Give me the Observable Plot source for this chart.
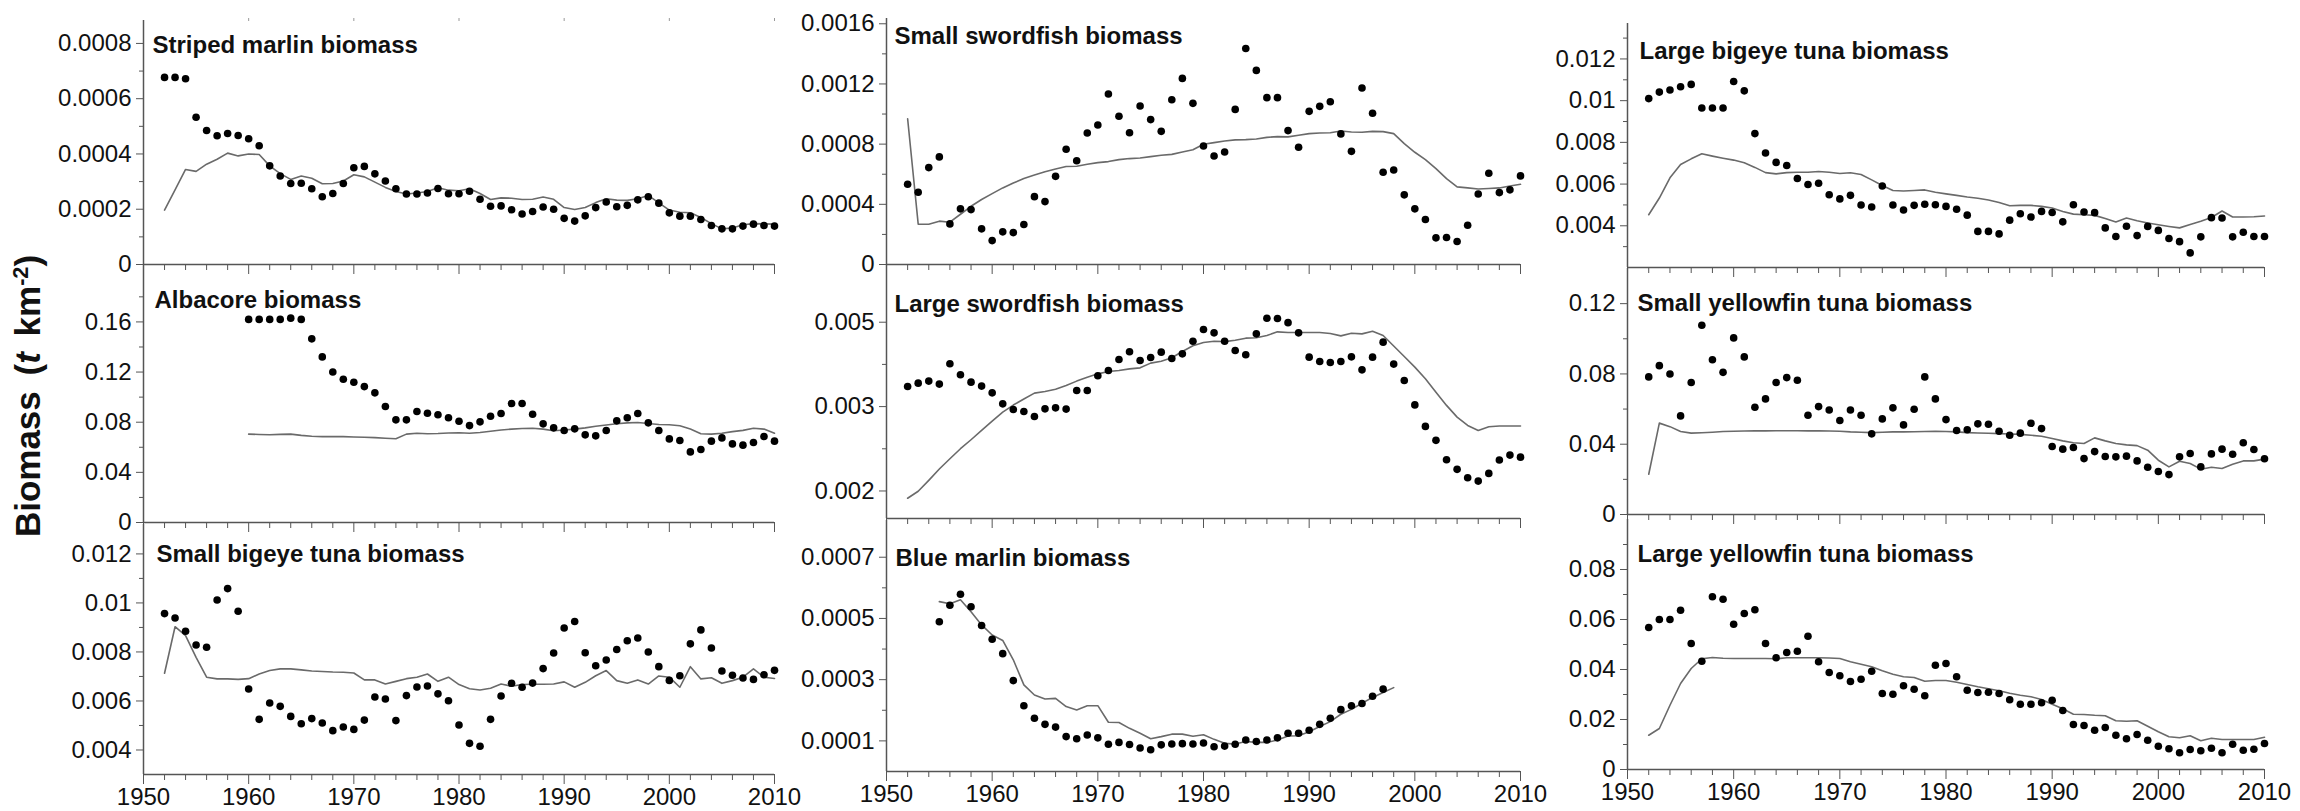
<!DOCTYPE html>
<html>
<head>
<meta charset="utf-8">
<script src="https://cdn.jsdelivr.net/npm/d3@7"></script>
<script src="https://cdn.jsdelivr.net/npm/@observablehq/plot@0.6"></script>
<style>
  body { margin: 0; background: #fff; }
  #root { position: relative; width: 2300px; height: 811px; overflow: hidden; font-family: "Liberation Sans", Arial, sans-serif; }
  #ylab { position: absolute; left: 28px; top: 396px; transform: translate(-50%, -50%) rotate(-90deg); white-space: nowrap; font-weight: bold; font-size: 35px; color: #111; word-spacing: 6px; }
  #ylab sup { font-size: 0.62em; vertical-align: 0.55em; line-height: 0; }
</style>
</head>
<body>
<div id="root"><div id="ylab">Biomass (<i>t</i> km<sup>-2</sup>)</div></div>
<script>
// ---------------- data ----------------
const years = d3.range(1952, 2011);            // 1952..2010
const albacoreYears = d3.range(1960, 2011);    // 1960..2010
const blueObsYears = d3.range(1955, 1998);     // 1955..1997
const blueModelYears = d3.range(1955, 1999);   // 1955..1998

const decadeYears = [1950, 1960, 1970, 1980, 1990, 2000, 2010];
const decadeLabels = ["1950", "1960", "1970", "1980", "1990", "2000", "2010"];
const minorYears = d3.range(1952, 2010, 2).filter(y => y % 10 !== 0);
const topStubYears = [1960, 1970, 1980, 1990, 2000, 2010];

const stripedObs = [0.000677,0.000677,0.000672,0.000533,0.000485,0.000466,0.000474,0.000467,0.000455,0.00043,
  0.000357,0.00032,0.000293,0.000294,0.000274,0.000245,0.000257,0.000293,0.00035,0.000355,
  0.000328,0.000302,0.000274,0.000255,0.000255,0.000259,0.000275,0.000256,0.000256,0.000265,
  0.000236,0.000211,0.000212,0.000198,0.000183,0.000192,0.000208,0.0002,0.000167,0.000157,
  0.000176,0.000206,0.000226,0.000209,0.000214,0.000234,0.000245,0.000222,0.000187,0.000175,
  0.000175,0.000163,0.000141,0.000129,0.000129,0.000139,0.000146,0.000141,0.000139];
const stripedModel = [0.000197,0.00027,0.000344,0.000337,0.000363,0.000381,0.000403,0.000393,0.0004,0.000398,
  0.000357,0.000329,0.000308,0.00032,0.000312,0.000292,0.000293,0.000302,0.000325,0.000317,
  0.000298,0.000279,0.000264,0.000255,0.000259,0.000264,0.000278,0.000269,0.000267,0.000274,
  0.000257,0.000235,0.000241,0.00024,0.000235,0.000236,0.000244,0.000236,0.000206,0.000199,
  0.000206,0.000224,0.000238,0.000233,0.000232,0.000238,0.00025,0.000223,0.000197,0.000189,
  0.000187,0.00017,0.000148,0.000129,0.000132,0.000144,0.000148,0.000147,0.000146];

const smallSwordObs = [0.000533,0.00048,0.000644,0.000715,0.00027,0.00037,0.000365,0.000237,0.000159,0.000217,
  0.000212,0.000266,0.000451,0.000418,0.000586,0.000766,0.00069,0.000874,0.000927,0.001133,
  0.000985,0.000876,0.001053,0.000963,0.000885,0.001095,0.001237,0.001071,0.000788,0.000721,
  0.000748,0.001031,0.001436,0.00129,0.001109,0.001109,0.00089,0.000779,0.001018,0.001051,
  0.001082,0.000868,0.000752,0.001173,0.001005,0.000613,0.000628,0.000463,0.00037,0.000299,
  0.000177,0.000179,0.000153,0.000261,0.000469,0.000606,0.000478,0.000496,0.000589];
const smallSwordModel = [0.000969,0.000268,0.000268,0.000288,0.000281,0.000334,0.000387,0.000432,0.000471,0.000509,
  0.000542,0.000571,0.000595,0.000617,0.000635,0.000651,0.000653,0.000666,0.000677,0.000684,
  0.000697,0.000704,0.000708,0.000717,0.000726,0.000732,0.000748,0.000763,0.000799,0.00081,
  0.000821,0.000828,0.00083,0.000834,0.000845,0.00085,0.000848,0.000859,0.00087,0.000874,
  0.000876,0.000887,0.000881,0.000879,0.000885,0.000883,0.00087,0.000803,0.000746,0.000697,
  0.000637,0.000571,0.000516,0.000509,0.000502,0.000505,0.000509,0.000522,0.000533];

const largeBigeyeObs = [0.0101,0.01041,0.01051,0.01067,0.01078,0.00965,0.00965,0.00965,0.01092,0.01047,
  0.00842,0.00749,0.00704,0.00689,0.00627,0.00598,0.00604,0.00549,0.00529,0.00546,
  0.005,0.0049,0.00591,0.005,0.00476,0.00498,0.00503,0.00501,0.00493,0.00479,
  0.00451,0.00373,0.00373,0.00361,0.00427,0.00458,0.00442,0.00469,0.00464,0.00419,
  0.00501,0.00466,0.00463,0.0039,0.00349,0.00398,0.00353,0.00397,0.00378,0.00339,
  0.00324,0.0027,0.00347,0.00439,0.00437,0.00347,0.00369,0.00349,0.00349];
const largeBigeyeModel = [0.00453,0.00533,0.0063,0.00694,0.00721,0.00745,0.00734,0.00724,0.00715,0.00702,
  0.0068,0.00655,0.00649,0.00655,0.00657,0.00657,0.0066,0.00657,0.00651,0.00654,
  0.00646,0.0062,0.00593,0.00569,0.00567,0.00569,0.00572,0.00561,0.00553,0.00546,
  0.00538,0.00532,0.00524,0.00512,0.00496,0.00498,0.00498,0.00493,0.00485,0.00469,
  0.00456,0.00453,0.0045,0.00435,0.00418,0.00437,0.00424,0.00413,0.00405,0.00397,
  0.0039,0.00406,0.00422,0.0044,0.00471,0.00442,0.00442,0.00443,0.00447];

const albacoreObs = [0.162,0.162,0.162,0.162,0.163,0.162,0.1465,0.1321,0.1201,0.1143,
  0.1119,0.1084,0.1034,0.0925,0.0819,0.0819,0.0885,0.0872,0.0859,0.0835,
  0.0808,0.0773,0.0803,0.0848,0.0869,0.0949,0.0949,0.0864,0.0787,0.0755,
  0.0734,0.0747,0.0699,0.0691,0.0734,0.0811,0.0835,0.0869,0.0795,0.0734,
  0.0667,0.0654,0.0563,0.0582,0.0649,0.0675,0.0627,0.0617,0.0638,0.0686,
  0.0649];
const albacoreModel = [0.0705,0.0702,0.07,0.0703,0.0705,0.0695,0.0688,0.0685,0.0686,0.0685,
  0.0682,0.068,0.0677,0.0672,0.0668,0.0705,0.0712,0.0708,0.071,0.0714,
  0.0716,0.0712,0.0718,0.0728,0.0738,0.0745,0.075,0.0752,0.0745,0.0732,
  0.0738,0.0745,0.0755,0.0768,0.0778,0.0788,0.0795,0.0798,0.079,0.0782,
  0.078,0.0772,0.0745,0.0708,0.0705,0.0712,0.0725,0.0735,0.0752,0.0745,
  0.0712];

const largeSwordObs = [0.00353,0.003594,0.003634,0.003575,0.003995,0.003761,0.003614,0.003537,0.003409,0.00321,
  0.003113,0.003079,0.002996,0.003124,0.003141,0.003119,0.003453,0.003453,0.003741,0.003851,
  0.004089,0.004264,0.004067,0.004134,0.004256,0.004112,0.004217,0.004519,0.004815,0.004729,
  0.004519,0.004295,0.004195,0.004703,0.005123,0.005114,0.005,0.004729,0.004142,0.004044,
  0.004022,0.004044,0.004149,0.003865,0.004142,0.004495,0.003988,0.003647,0.003192,0.002838,
  0.00263,0.002366,0.002245,0.002145,0.002106,0.002196,0.002362,0.002427,0.0024];
const largeSwordModel = [0.001918,0.001992,0.002114,0.002249,0.002379,0.002513,0.002639,0.002777,0.002922,0.003069,
  0.003189,0.003295,0.003404,0.003435,0.003475,0.003549,0.003634,0.003713,0.003781,0.003829,
  0.003851,0.003885,0.003907,0.004009,0.004052,0.004127,0.004272,0.004406,0.004487,0.004516,
  0.004508,0.004543,0.004594,0.004603,0.004661,0.004755,0.004738,0.004738,0.004738,0.004738,
  0.004711,0.004652,0.00472,0.004703,0.004772,0.004661,0.004402,0.004156,0.003922,0.003681,
  0.003421,0.003183,0.002986,0.002853,0.002777,0.002832,0.002845,0.002845,0.002845];

const smallYellowObs = [0.0783,0.0847,0.08,0.0561,0.0751,0.1077,0.0881,0.0809,0.1005,0.0897,
  0.061,0.0658,0.0751,0.0779,0.0764,0.0565,0.0614,0.0595,0.0535,0.0595,
  0.0565,0.0459,0.0544,0.0607,0.051,0.0599,0.0783,0.0658,0.054,0.0478,
  0.0482,0.0516,0.0514,0.0474,0.0451,0.0463,0.0519,0.0489,0.0387,0.0372,
  0.0381,0.0318,0.0358,0.033,0.0328,0.0332,0.0305,0.0269,0.0245,0.0227,
  0.0328,0.0347,0.0271,0.0345,0.0372,0.0343,0.0408,0.037,0.0317];
const smallYellowModel = [0.0229,0.052,0.05,0.0472,0.0463,0.0465,0.0468,0.0472,0.0474,0.0475,
  0.0476,0.0476,0.0477,0.0477,0.0477,0.0476,0.0476,0.0475,0.0474,0.047,
  0.0468,0.0466,0.0468,0.047,0.047,0.0471,0.0472,0.0473,0.0472,0.047,
  0.0466,0.0464,0.0462,0.046,0.0458,0.0456,0.0451,0.0445,0.0432,0.0419,
  0.0408,0.0404,0.0436,0.0419,0.0404,0.0396,0.0392,0.0366,0.0309,0.0271,
  0.0303,0.029,0.0258,0.0269,0.0262,0.0286,0.0305,0.0305,0.0315];

const smallBigeyeObs = [0.009565,0.009388,0.008844,0.008286,0.00819,0.010122,0.010585,0.00966,0.00649,0.00525,
  0.00592,0.00578,0.00537,0.00507,0.00528,0.0051,0.00479,0.00494,0.00484,0.00522,
  0.00616,0.00608,0.0052,0.00622,0.00657,0.00661,0.00629,0.00601,0.00502,0.00427,
  0.00415,0.00525,0.0062,0.00672,0.00656,0.00673,0.00732,0.00796,0.00898,0.00924,
  0.00797,0.00744,0.00767,0.0081,0.00846,0.00857,0.008,0.0074,0.00684,0.00703,
  0.00833,0.0089,0.00816,0.00722,0.00705,0.00694,0.00688,0.00707,0.00725];
const smallBigeyeModel = [0.00713,0.00903,0.00867,0.00778,0.00697,0.0069,0.0069,0.00688,0.00691,0.0071,
  0.00724,0.00731,0.00731,0.00727,0.00722,0.0072,0.00718,0.00717,0.00714,0.00686,
  0.00686,0.00669,0.0068,0.00691,0.00697,0.0071,0.0068,0.00697,0.00667,0.0065,
  0.00645,0.00652,0.00669,0.0066,0.00667,0.00668,0.00668,0.00669,0.00678,0.00656,
  0.00676,0.00703,0.00724,0.00683,0.00672,0.00686,0.00669,0.00702,0.00697,0.00656,
  0.0074,0.0069,0.00695,0.00672,0.00683,0.00697,0.00731,0.00697,0.00692];

const blueObs = [0.000489,0.000543,0.000579,0.000538,0.000477,
  0.000432,0.000385,0.000297,0.000215,0.000174,0.000154,0.000145,0.000114,0.000107,0.000119,
  0.00011,0.000089,0.000095,0.000088,0.000077,0.000071,0.000087,0.00009,0.000091,0.00009,
  0.000093,0.000081,0.000083,0.000089,0.000103,0.000098,0.000103,0.00011,0.000125,0.000125,
  0.000135,0.000154,0.000174,0.000202,0.000215,0.000222,0.000246,0.000269];
const blueModel = [0.000555,0.000548,0.000561,0.000522,0.000479,
  0.000446,0.000428,0.000365,0.000283,0.00025,0.000237,0.000239,0.000212,0.000201,0.000215,
  0.000215,0.000161,0.00016,0.000141,0.000125,0.000107,0.000114,0.000122,0.000122,0.000115,
  0.00012,0.000105,0.000092,0.00009,0.000098,0.000095,0.000095,0.000103,0.000116,0.000117,
  0.00013,0.000147,0.000163,0.000187,0.000203,0.000223,0.000242,0.000258,0.000274];

const largeYellowObs = [0.0568,0.06,0.06,0.0637,0.0504,0.0433,0.0691,0.0681,0.0581,0.0624,
  0.0639,0.0504,0.0447,0.0468,0.0473,0.0533,0.0431,0.0388,0.0375,0.0352,
  0.0361,0.0393,0.0304,0.0301,0.0335,0.0321,0.0295,0.0417,0.0424,0.0371,
  0.0317,0.0308,0.0309,0.0304,0.0279,0.0261,0.0261,0.0267,0.0277,0.0236,
  0.018,0.0176,0.0157,0.0168,0.0137,0.0123,0.014,0.0117,0.0093,0.0083,
  0.0067,0.008,0.0075,0.0085,0.0067,0.0101,0.0077,0.0081,0.0104];
const largeYellowModel = [0.0137,0.0164,0.0257,0.0344,0.0404,0.0443,0.0448,0.0445,0.0444,0.0444,
  0.0444,0.0444,0.0443,0.0447,0.0447,0.0447,0.0447,0.0446,0.0444,0.0431,
  0.0421,0.0411,0.0395,0.0381,0.0371,0.0368,0.0353,0.0356,0.0356,0.0349,
  0.034,0.0331,0.0323,0.0315,0.0305,0.0297,0.0291,0.028,0.0261,0.0243,
  0.0221,0.022,0.0217,0.0215,0.0195,0.0193,0.0195,0.0173,0.0151,0.0131,
  0.0127,0.0135,0.0115,0.0125,0.012,0.012,0.012,0.012,0.0129];

// y-axis tick values and labels
const stripedTicks = [0, 0.0002, 0.0004, 0.0006, 0.0008];
const stripedLabels = ["0", "0.0002", "0.0004", "0.0006", "0.0008"];
const smallSwordTicks = [0, 0.0004, 0.0008, 0.0012, 0.0016];
const smallSwordLabels = ["0", "0.0004", "0.0008", "0.0012", "0.0016"];
const largeBigeyeTicks = [0.004, 0.006, 0.008, 0.01, 0.012];
const largeBigeyeLabels = ["0.004", "0.006", "0.008", "0.01", "0.012"];
const albacoreTicks = [0, 0.04, 0.08, 0.12, 0.16];
const albacoreLabels = ["0", "0.04", "0.08", "0.12", "0.16"];
const largeSwordTicks = [Math.pow(10, -2.7), Math.pow(10, -2.5), Math.pow(10, -2.3)];
const largeSwordLabels = ["0.002", "0.003", "0.005"];
const smallYellowTicks = [0, 0.04, 0.08, 0.12];
const smallYellowLabels = ["0", "0.04", "0.08", "0.12"];
const smallBigeyeTicks = [0.004, 0.006, 0.008, 0.01, 0.012];
const smallBigeyeLabels = ["0.004", "0.006", "0.008", "0.01", "0.012"];
const blueTicks = [0.0001, 0.0003, 0.0005, 0.0007];
const blueLabels = ["0.0001", "0.0003", "0.0005", "0.0007"];
const largeYellowTicks = [0, 0.02, 0.04, 0.06, 0.08];
const largeYellowLabels = ["0", "0.02", "0.04", "0.06", "0.08"];

// ---------------- layout / drawing ----------------
const FONT = '"Liberation Sans", Arial, sans-serif';
const ML = 110, MR = 35, MT = 12, MB = 45;
const root = document.getElementById("root");

const panels = [
  {title: "Striped marlin biomass", obs: stripedObs, obsYears: years, model: stripedModel, modelYears: years,
   domain: [0, 0.000883], major: stripedTicks, labels: stripedLabels, minor: [0.0001, 0.0003, 0.0005, 0.0007],
   x0: 143, x1: 774, yt: 20, yb: 264, tdx: 9, tdy: 25, topStubs: true},
  {title: "Small swordfish biomass", obs: smallSwordObs, obsYears: years, model: smallSwordModel, modelYears: years,
   domain: [0, 0.001635], major: smallSwordTicks, labels: smallSwordLabels, minor: [0.0002, 0.0006, 0.001, 0.0014],
   x0: 886, x1: 1520, yt: 18, yb: 264, tdx: 8, tdy: 18},
  {title: "Large bigeye tuna biomass", obs: largeBigeyeObs, obsYears: years, model: largeBigeyeModel, modelYears: years,
   domain: [0.002, 0.0137], major: largeBigeyeTicks, labels: largeBigeyeLabels, minor: [0.003, 0.005, 0.007, 0.009, 0.011, 0.013],
   x0: 1627, x1: 2264, yt: 23, yb: 267, tdx: 12, tdy: 28},
  {title: "Albacore biomass", obs: albacoreObs, obsYears: albacoreYears, model: albacoreModel, modelYears: albacoreYears,
   domain: [0, 0.205], major: albacoreTicks, labels: albacoreLabels, minor: [0.02, 0.06, 0.1, 0.14, 0.18],
   x0: 143, x1: 774, yt: 265, yb: 522, tdx: 11, tdy: 35},
  {title: "Large swordfish biomass", obs: largeSwordObs, obsYears: years, model: largeSwordModel, modelYears: years,
   log: true, domain: [0.001717, 0.00683], major: largeSwordTicks, labels: largeSwordLabels,
   minor: [Math.pow(10, -2.6), Math.pow(10, -2.4)],
   x0: 886, x1: 1520, yt: 265, yb: 518, tdx: 8, tdy: 39},
  {title: "Small yellowfin tuna biomass", obs: smallYellowObs, obsYears: years, model: smallYellowModel, modelYears: years,
   domain: [0, 0.14], major: smallYellowTicks, labels: smallYellowLabels, minor: [0.02, 0.06, 0.1],
   x0: 1627, x1: 2264, yt: 268, yb: 514, tdx: 10, tdy: 35},
  {title: "Small bigeye tuna biomass", obs: smallBigeyeObs, obsYears: years, model: smallBigeyeModel, modelYears: years,
   domain: [0.003, 0.0132], major: smallBigeyeTicks, labels: smallBigeyeLabels, minor: [0.005, 0.007, 0.009, 0.011],
   x0: 143, x1: 774, yt: 524, yb: 774, tdx: 13, tdy: 30, bottom: true},
  {title: "Blue marlin biomass", obs: blueObs, obsYears: blueObsYears, model: blueModel, modelYears: blueModelYears,
   domain: [0, 0.00082], major: blueTicks, labels: blueLabels, minor: [0.0002, 0.0004, 0.0006],
   x0: 886, x1: 1520, yt: 520, yb: 771, tdx: 9, tdy: 38, bottom: true},
  {title: "Large yellowfin tuna biomass", obs: largeYellowObs, obsYears: years, model: largeYellowModel, modelYears: years,
   domain: [0, 0.1], major: largeYellowTicks, labels: largeYellowLabels, minor: [0.01, 0.03, 0.05, 0.07, 0.09],
   x0: 1627, x1: 2264, yt: 519, yb: 769, tdx: 10, tdy: 35, bottom: true}
];

const AXIS = "#555";
for (const p of panels) {
  const w = p.x1 - p.x0, h = p.yb - p.yt;
  const svg = Plot.plot({
    width: w + ML + MR,
    height: h + MT + MB,
    marginLeft: ML, marginRight: MR, marginTop: MT, marginBottom: MB,
    x: {domain: [1950, 2010]},
    y: {type: p.log ? "log" : "linear", domain: p.domain},
    style: {background: "none", overflow: "visible", maxWidth: "none", fontFamily: FONT, fontSize: "24px", color: "#111"},
    marks: [
      Plot.axisY({ticks: p.minor, tickSize: 4, fill: "none", label: null, stroke: AXIS}),
      Plot.axisY({ticks: p.major, tickSize: 7, tickPadding: 5, label: null, stroke: AXIS, fill: "#111", fontSize: 24,
        tickFormat: d => p.labels[p.major.indexOf(d)]}),
      Plot.axisX({ticks: minorYears, tickSize: 6, fill: "none", label: null, stroke: AXIS}),
      p.bottom
        ? Plot.axisX({ticks: decadeYears, tickSize: 10, tickPadding: 3, label: null, stroke: AXIS, fill: "#111", fontSize: 24,
            tickFormat: d => decadeLabels[decadeYears.indexOf(d)]})
        : Plot.axisX({ticks: decadeYears, tickSize: 10, label: null, stroke: AXIS, fill: "none"}),
      p.topStubs ? Plot.axisX({anchor: "top", ticks: topStubYears, tickSize: 3, label: null, stroke: "#999", fill: "none"}) : null,
      Plot.ruleX([1950], {stroke: AXIS, strokeWidth: 1.5}),
      Plot.ruleY([p.domain[0]], {stroke: AXIS, strokeWidth: 1.5}),
      Plot.line(p.model, {x: p.modelYears, y: d => d, stroke: "#6a6a6a", strokeWidth: 1.6}),
      Plot.dot(p.obs, {x: p.obsYears, y: d => d, r: 3.8, fill: "#000", stroke: "none"}),
      Plot.text([p.title], {text: d => d, frameAnchor: "top-left", textAnchor: "start", lineAnchor: "middle",
        dx: p.tdx, dy: p.tdy, fontWeight: "bold", fontSize: 24, fill: "#111"})
    ]
  });
  svg.style.position = "absolute";
  svg.style.left = (p.x0 - ML) + "px";
  svg.style.top = (p.yt - MT) + "px";
  root.appendChild(svg);
}
</script>
</body>
</html>
